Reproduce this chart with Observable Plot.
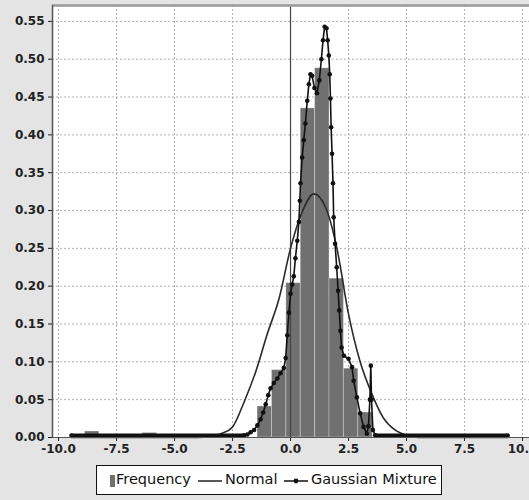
<!DOCTYPE html>
<html><head><meta charset="utf-8">
<script src="https://cdn.jsdelivr.net/npm/d3@7"></script>
<script src="https://cdn.jsdelivr.net/npm/@observablehq/plot@0.6"></script>
<style>
html,body{margin:0;padding:0;background:#e4e4e4;}
#chart{width:529px;height:500px;overflow:hidden;font-family:"DejaVu Sans",sans-serif;}
#chart svg{display:block;}
.legend{position:relative;margin-left:96px;margin-top:3px;width:346px;height:30px;box-sizing:border-box;border:1.5px solid #111;background:#fff;font-size:14.5px;color:#111;}
.legend span{position:absolute;top:5px;white-space:nowrap;}
.legend svg{position:absolute;top:0;}
</style></head>
<body><div id="chart"></div>
<script>
// Axis ticks
const xTicks = [-10, -7.5, -5, -2.5, 0, 2.5, 5, 7.5, 10];
const yTicks = [0, 0.05, 0.10, 0.15, 0.20, 0.25, 0.30, 0.35, 0.40, 0.45, 0.50, 0.55];

// Histogram (Frequency) bins
const binLo = [-8.86, -6.38, -1.42, -0.80, -0.18, 0.44, 1.06, 1.68, 2.30, 2.92];
const binHi = [-8.24, -5.76, -0.80, -0.18, 0.44, 1.06, 1.68, 2.30, 2.92, 3.54];
const freq  = [0.008, 0.006, 0.041, 0.089, 0.204, 0.435, 0.488, 0.210, 0.091, 0.033];

// Normal curve
const normX = [-9.44, -4.0, -3.5, -3.0, -2.5, -2.0, -1.5, -1.0, -0.5, 0.0, 0.5, 1.0, 1.5, 2.0, 2.5, 3.0, 3.5, 4.0, 4.5, 5.0, 5.5, 9.36];
const normY = [0.0, 0.0, 0.001, 0.005, 0.014, 0.047, 0.087, 0.137, 0.183, 0.25, 0.298, 0.322, 0.305, 0.25, 0.163, 0.10, 0.058, 0.026, 0.010, 0.003, 0.0, 0.0];

// Gaussian mixture curve
const mixX = [-9.44, -2.0, -1.86, -1.72, -1.57, -1.43, -1.29, -1.18, -1.07, -0.96, -0.86, -0.72, -0.57, -0.43, -0.29, -0.21, -0.14, -0.07, 0.0, 0.07, 0.14, 0.21, 0.29, 0.36, 0.40, 0.43, 0.50, 0.57, 0.64, 0.72, 0.79, 0.86, 0.93, 1.03, 1.14, 1.24, 1.33, 1.40, 1.47, 1.55, 1.60, 1.65, 1.69, 1.72, 1.75, 1.79, 1.83, 1.86, 1.92, 1.99, 2.05, 2.10, 2.15, 2.20, 2.30, 2.50, 2.65, 2.72, 2.86, 3.00, 3.15, 3.29, 3.36, 3.42, 3.46, 3.49, 3.55, 3.65, 9.36];
const mixY = [0.0025, 0.003, 0.004, 0.007, 0.010, 0.016, 0.024, 0.033, 0.044, 0.056, 0.065, 0.072, 0.078, 0.085, 0.092, 0.105, 0.135, 0.165, 0.190, 0.202, 0.213, 0.237, 0.260, 0.285, 0.313, 0.336, 0.370, 0.393, 0.415, 0.445, 0.467, 0.480, 0.478, 0.462, 0.455, 0.472, 0.500, 0.525, 0.543, 0.541, 0.525, 0.505, 0.480, 0.448, 0.410, 0.375, 0.336, 0.291, 0.256, 0.225, 0.194, 0.168, 0.141, 0.119, 0.108, 0.104, 0.093, 0.075, 0.053, 0.032, 0.014, 0.005, 0.015, 0.050, 0.095, 0.050, 0.010, 0.003, 0.0025];
// flat, densely dotted stretches of the mixture
const tailFrom = [-9.44, 3.65];
const tailTo   = [-1.95, 9.36];
const tailY    = [0.0025, 0.0025];

const hist = binLo.map((d, i) => ({x1: d, x2: binHi[i], y: freq[i]}));
const normal = normX.map((x, i) => ({x, y: normY[i]}));
const mixture = mixX.map((x, i) => ({x, y: mixY[i]}));
const tails = tailFrom.map((d, i) => ({a: d, b: tailTo[i], y: tailY[i]}));

const xDom = [-10.26, 10.30], yDom = [0, 0.571];

const plot = Plot.plot({
  width: 529, height: 462,
  marginTop: 5, marginLeft: 52, marginRight: 0, marginBottom: 25,
  style: {background: "transparent", fontFamily: "DejaVu Sans", fontSize: "12px", fontWeight: "bold", color: "#222", overflow: "visible"},
  x: {domain: xDom, ticks: xTicks, tickFormat: d => d.toFixed(1), tickSize: 4, tickPadding: 3, label: null},
  y: {domain: yDom, ticks: yTicks, tickFormat: d => d.toFixed(2), tickSize: 4, tickPadding: 4, label: null},
  marks: [
    Plot.frame({fill: "white", stroke: "none"}),
    Plot.gridX(xTicks, {stroke: "#b0b0b0", strokeOpacity: 1, strokeDasharray: "2,2"}),
    Plot.gridY(yTicks, {stroke: "#b0b0b0", strokeOpacity: 1, strokeDasharray: "2,2"}),
    Plot.rectY(hist, {x1: "x1", x2: "x2", y: "y", fill: "#707070", stroke: "#ffffff", strokeOpacity: 0.3, inset: 0}),
    Plot.ruleX([0], {stroke: "#444", strokeWidth: 1.2}),
    Plot.line(normal, {x: "x", y: "y", curve: "monotone-x", stroke: "#2a2a2a", strokeWidth: 1.6}),
    Plot.ruleY(tails, {y: "y", x1: "a", x2: "b", stroke: "#111", strokeWidth: 4}),
    Plot.line(mixture, {x: "x", y: "y", stroke: "#111", strokeWidth: 1.6}),
    Plot.dot(mixture, {x: "x", y: "y", r: 2.3, fill: "#111", stroke: "none"}),
    Plot.ruleY([yDom[1]], {stroke: "#999", strokeWidth: 2.5}),
    Plot.ruleY([0], {stroke: "#555", strokeWidth: 1.2}),
    Plot.ruleX([xDom[0]], {stroke: "#555", strokeWidth: 1.5})
  ]
});
document.getElementById("chart").appendChild(plot);

// Legend below the chart
const legend = document.createElement("div");
legend.className = "legend";
legend.innerHTML = `
  <svg width="346" height="28" style="left:0">
    <rect x="13" y="9" width="5" height="12" fill="#707070"></rect>
    <line x1="101" x2="125" y1="15" y2="15" stroke="#222" stroke-width="1.5"></line>
    <line x1="187" x2="211" y1="15" y2="15" stroke="#111" stroke-width="1.5"></line>
    <circle cx="199" cy="15" r="2.4" fill="#111"></circle>
  </svg>
  <span style="left:19px">Frequency</span>
  <span style="left:128px">Normal</span>
  <span style="left:214px">Gaussian Mixture</span>`;
document.getElementById("chart").appendChild(legend);
</script>
</body></html>
